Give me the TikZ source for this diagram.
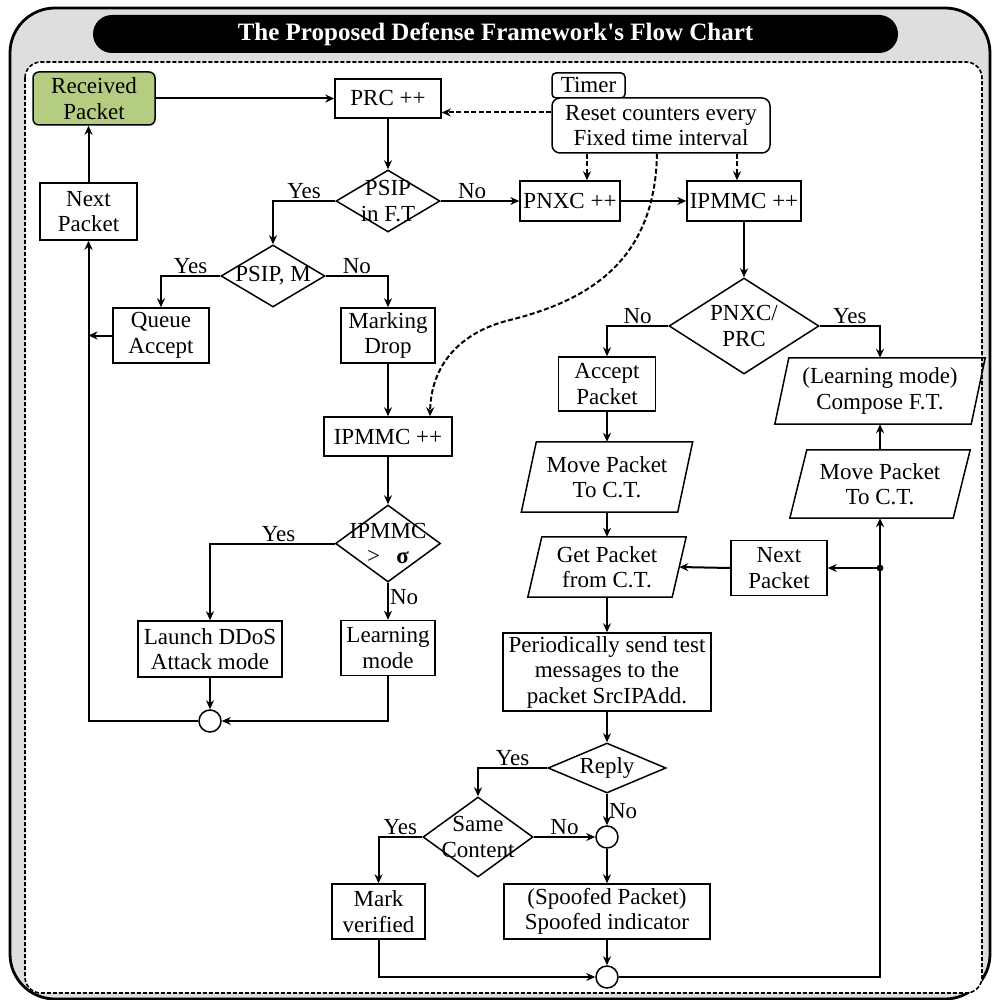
\documentclass[tikz,border=0pt]{standalone}
\usepackage{fontspec}
\setmainfont{Liberation Serif}
\usetikzlibrary{shapes.geometric,arrows.meta,calc}
\newcommand{\fs}{\fontsize{23}{25.5}\selectfont}
\definecolor{recvgreen}{RGB}{181,205,128}
\definecolor{texgray}{RGB}{222,222,222}
\newcommand{\paraline}[2]{\draw[line width=1.5pt] ([xshift=#2pt]#1.north west) -- ([xshift=#2pt]#1.north east) -- ([xshift=-#2pt]#1.south east) -- ([xshift=-#2pt]#1.south west) -- cycle;}
\begin{document}
\begin{tikzpicture}[x=1pt,y=-1pt,
  box/.style={draw, line width=1.5pt, rectangle, inner sep=0pt, align=center, font=\fs, fill=white},
  pbox/.style={rectangle, inner sep=0pt, align=center, font=\fs},
  dia/.style={draw, diamond, line width=1.5pt, inner sep=0pt, fill=white, label={[align=center,font=\fs,inner sep=0pt]center:{#1}}},
  circ/.style={draw, circle, line width=1.5pt, inner sep=0pt, minimum size=22pt, fill=white},
  arr/.style={line width=2pt, -{Stealth[length=9pt,width=8pt]}},
  dasharr/.style={line width=2pt, dash pattern=on 5pt off 2.5pt, -{Stealth[length=9pt,width=8pt]}},
  elab/.style={font=\fs, inner sep=1pt}
]
\useasboundingbox (0,0) rectangle (992,1000);
% frame
\draw[line width=2.8pt, fill=texgray, rounded corners=45pt] (10,8) rectangle (990,999);
\draw[line width=1.6pt, dash pattern=on 4pt off 2pt, fill=white, rounded corners=16pt] (25,62) rectangle (982,993);
\node[fill=black, rounded corners=19pt, minimum width=805pt, minimum height=38pt, inner sep=0pt,
      text=white, font=\fontsize{25}{28}\selectfont\bfseries] (title) at (495.5,34) {The Proposed Defense Framework\textquotesingle s Flow Chart};

% left part
\node[box, fill=recvgreen, rounded corners=6pt, minimum width=122pt, minimum height=53pt] (recv) at (94,98.5) {Received\\Packet};
\node[box, minimum width=97pt, minimum height=57pt] (next1) at (88.5,211.5) {Next\\Packet};
\node[box, minimum width=106pt, minimum height=39pt] (prc) at (388,98.5) {PRC ++};
\node[dia={PSIP\\in F.T}, minimum width=104pt, minimum height=62pt] (psip) at (388,201) {};
\node[box, rounded corners=4pt, minimum width=73pt, minimum height=25pt] (timer) at (588.5,85.5) {Timer};
\node[box, rounded corners=8pt, minimum width=218pt, minimum height=55pt] (reset) at (661,125.5) {Reset counters every\\Fixed time interval};
\node[box, minimum width=100pt, minimum height=40pt] (pnxc) at (570,201) {PNXC ++};
\node[box, minimum width=114pt, minimum height=40pt] (ipmmc1) at (744,201) {IPMMC ++};
\node[dia={PSIP, M}, minimum width=104pt, minimum height=62pt] (psipm) at (273,276) {};
\node[box, minimum width=96pt, minimum height=55pt] (queue) at (161,335.5) {Queue\\Accept};
\node[box, minimum width=94pt, minimum height=55pt] (mark) at (388,335.5) {Marking\\Drop};
\node[box, minimum width=128pt, minimum height=39pt] (ipmmc2) at (388,436.5) {IPMMC ++};
\node[dia={IPMMC\\>\hspace{0.7em}\textbf{σ}}, minimum width=105pt, minimum height=77pt] (cmp) at (388,543.5) {};
\node[box, minimum width=144pt, minimum height=56pt] (launch) at (210,649) {Launch DDoS\\Attack mode};
\node[box, minimum width=94pt, minimum height=55pt] (learn) at (388,648) {Learning\\mode};
\node[circ] (c1) at (210,721) {};

% right part
\node[dia={PNXC/\\PRC}, minimum width=150pt, minimum height=96pt] (pnxcprc) at (744,326) {};
\node[box, minimum width=97pt, minimum height=54pt] (accept) at (607,384) {Accept\\Packet};
\node[pbox, minimum width=196pt, minimum height=66pt] (compose) at (880,391) {(Learning mode)\\Compose F.T.};
\paraline{compose}{7}
\node[pbox, minimum width=156pt, minimum height=70pt] (move1) at (607,477) {Move Packet\\To C.T.};
\paraline{move1}{7.5}
\node[pbox, minimum width=144pt, minimum height=60pt] (get) at (607,567) {Get Packet\\from C.T.};
\paraline{get}{7}
\node[box, minimum width=96pt, minimum height=55pt] (next2) at (779,568) {Next\\Packet};
\node[pbox, minimum width=163pt, minimum height=68pt] (move2) at (880,484) {Move Packet\\To C.T.};
\paraline{move2}{8.5}
\node[box, minimum width=208pt, minimum height=78pt] (period) at (607,672) {Periodically send test\\messages to the\\packet SrcIPAdd.};
\node[dia={Reply}, minimum width=118pt, minimum height=50pt] (reply) at (607,768) {};
\node[dia={Same\\Content}, minimum width=110pt, minimum height=80pt] (same) at (478,837) {};
\node[circ] (c2) at (607,837) {};
\node[box, minimum width=93pt, minimum height=55pt] (markv) at (378.5,911.5) {Mark\\verified};
\node[box, minimum width=206pt, minimum height=55pt] (spoof) at (607,911.5) {(Spoofed Packet)\\Spoofed indicator};
\node[circ] (c3) at (607,977) {};

% connectors left
\draw[arr] (recv.east) -- (prc.west);
\draw[dasharr] ([yshift=13pt]reset.west) -- ([yshift=13pt]reset.west -| prc.east);
\draw[arr] (prc.south) -- (psip.north);
\draw[arr] (psip.west) -- node[elab,above]{Yes} (psip.west -| psipm.north) -- (psipm.north);
\draw[arr] (psip.east) -- node[elab,above,pos=0.4]{No} (pnxc.west);
\draw[arr] (pnxc.east) -- (ipmmc1.west);
\coordinate (t1) at ([xshift=17pt]pnxc.north);
\coordinate (t2) at ([xshift=-7pt]ipmmc1.north);
\draw[dasharr] (t1 |- reset.south) -- (t1);
\draw[dasharr] (t2 |- reset.south) -- (t2);
\coordinate (cs) at ([xshift=-4pt]reset.south);
\coordinate (ce) at ([xshift=42pt]ipmmc2.north);
\draw[dasharr] (cs) .. controls (655,260) and (590,300) .. (510,320) .. controls (460,332) and (431,365) .. (ce);
\draw[arr] (ipmmc1.south) -- (pnxcprc.north);
\draw[arr] (pnxcprc.west) -- node[elab,above]{No} (pnxcprc.west -| accept.north) -- (accept.north);
\draw[arr] (pnxcprc.east) -- node[elab,above]{Yes} (pnxcprc.east -| compose.north) -- (compose.north);
\draw[arr] (psipm.west) -- node[elab,above]{Yes} (psipm.west -| queue.north) -- (queue.north);
\draw[arr] (psipm.east) -- node[elab,above]{No} (psipm.east -| mark.north) -- (mark.north);
\draw[arr] (queue.west) -- (queue.west -| next1.south);
\draw[arr] (mark.south) -- (ipmmc2.north);
\draw[arr] (ipmmc2.south) -- (cmp.north);
\draw[arr] (cmp.west) -- node[elab,above,pos=0.45]{Yes} (cmp.west -| launch.north) -- (launch.north);
\draw[arr] (cmp.south) -- node[elab,right,pos=0.4]{No} (learn.north);
\draw[arr] (launch.south) -- (c1.north);
\draw[arr] (learn.south) |- (c1.east);
\draw[arr] (c1.west) -| (next1.south);
\draw[arr] (next1.north) -- (next1.north |- recv.south);

% connectors right
\draw[arr] (accept.south) -- (move1.north);
\draw[arr] (move1.south) -- (get.north);
\draw[arr] (get.south) -- (period.north);
\draw[arr] (period.south) -- (reply.north);
\draw[arr] (reply.west) -- node[elab,above]{Yes} (reply.west -| same.north) -- (same.north);
\draw[arr] (reply.south) -- node[elab,right,pos=0.55]{No} (c2.north);
\draw[arr] (same.east) -- node[elab,above]{No} (c2.west);
\draw[arr] (same.west) -- node[elab,above]{Yes} (same.west -| markv.north) -- (markv.north);
\draw[arr] (c2.south) -- (spoof.north);
\draw[arr] (spoof.south) -- (c3.north);
\draw[arr] (markv.south) |- (c3.west);
\draw[arr] (c3.east) -| (move2.south);
\coordinate (j) at (move2.south |- next2.east);
\fill (j) circle (3.4);
\draw[arr] (j) -- (next2.east);
\draw[arr] (next2.west) -- (get.east);
\draw[arr] (move2.north) -- (compose.south);
\end{tikzpicture}
\end{document}
